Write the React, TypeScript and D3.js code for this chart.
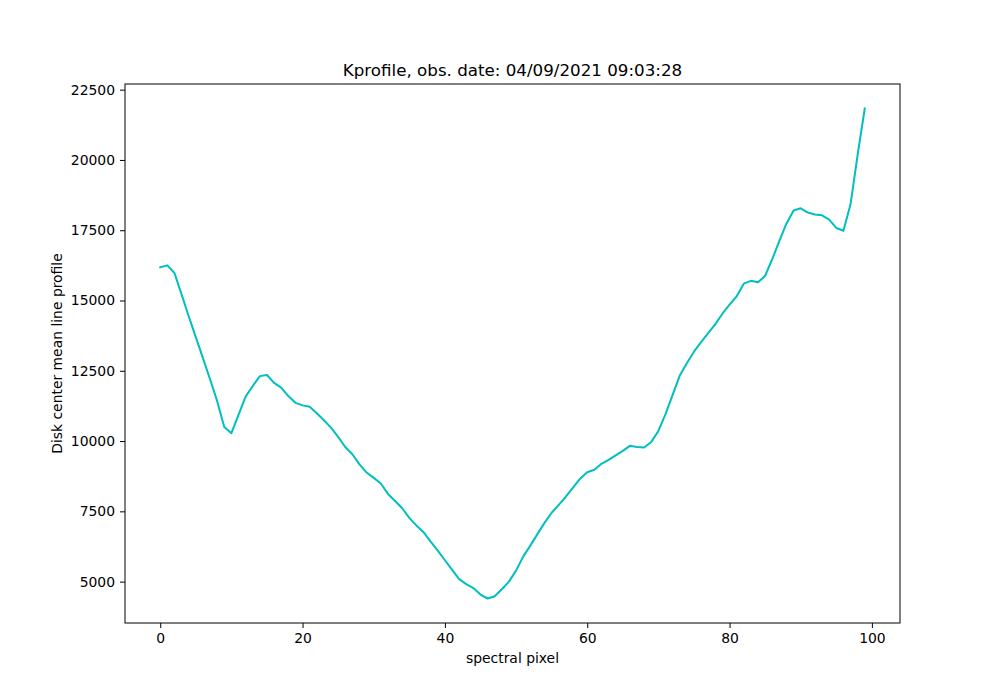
import React, { useEffect, useRef } from 'react';
import * as d3 from 'd3';

// mean line profile at disk center, one value per spectral pixel (0..99)
const profile: number[] = [
  16180, 16250, 15980, 15220, 14440, 13700, 12950, 12200, 11420, 10500,
  10280, 10930, 11580, 11960, 12310, 12350, 12070, 11900, 11600, 11360,
  11270, 11220, 10990, 10740, 10480, 10150, 9790, 9530, 9170, 8880,
  8690, 8490, 8120, 7870, 7610, 7270, 7000, 6760, 6420, 6100,
  5760, 5430, 5090, 4910, 4770, 4540, 4400, 4480, 4730, 5000,
  5390, 5890, 6280, 6690, 7090, 7450, 7730, 8020, 8340, 8660,
  8890, 8980, 9190, 9330, 9490, 9650, 9830, 9790, 9770, 9970,
  10360, 10960, 11640, 12330, 12770, 13180, 13520, 13840, 14160, 14530,
  14850, 15150, 15600, 15700, 15650, 15880, 16470, 17120, 17740, 18200,
  18280, 18130, 18060, 18030, 17880, 17580, 17480, 18420, 20190, 21830,
];
const xTicks = [0, 20, 40, 60, 80, 100];
const yTicks = [5000, 7500, 10000, 12500, 15000, 17500, 20000, 22500];
const title = 'Kprofile, obs. date: 04/09/2021 09:03:28';
const xLabel = 'spectral pixel';
const yLabel = 'Disk center mean line profile';

const App: React.FC = () => {
  const svgRef = useRef<SVGSVGElement>(null);

  useEffect(() => {
    if (!svgRef.current) return;
    const width = 1000;
    const height = 700;
    const m = { left: 125, right: 900, top: 84, bottom: 623 };
    const font = 'DejaVu Sans, sans-serif';

    const svg = d3.select(svgRef.current);
    svg.selectAll('*').remove();
    svg.attr('width', width).attr('height', height);

    svg.append('rect').attr('width', width).attr('height', height).attr('fill', 'white');

    // matplotlib-like 5% margins around the data
    const n = profile.length - 1;
    const [yMin, yMax] = d3.extent(profile) as [number, number];
    const yPad = (yMax - yMin) * 0.05;
    const x = d3.scaleLinear().domain([-n * 0.05, n * 1.05]).range([m.left, m.right]);
    const y = d3.scaleLinear().domain([yMin - yPad, yMax + yPad]).range([m.bottom, m.top]);

    const line = d3.line<number>()
      .x((d, i) => x(i))
      .y(d => y(d));

    svg.append('path')
      .datum(profile)
      .attr('d', line)
      .attr('fill', 'none')
      .attr('stroke', '#00bfbf')
      .attr('stroke-width', 2)
      .attr('stroke-linejoin', 'round')
      .attr('stroke-linecap', 'square');

    // axes
    const xAxis = svg.append('g')
      .attr('transform', `translate(0, ${m.bottom})`)
      .call(d3.axisBottom(x).tickValues(xTicks).tickSize(5).tickPadding(5).tickFormat(d3.format('d')));
    const yAxis = svg.append('g')
      .attr('transform', `translate(${m.left}, 0)`)
      .call(d3.axisLeft(y).tickValues(yTicks).tickSize(5).tickPadding(5).tickFormat(d3.format('d')));

    [xAxis, yAxis].forEach(a => {
      a.select('.domain').remove();
      a.selectAll('line').attr('stroke', 'black').attr('stroke-width', 1);
      a.selectAll('text').attr('font-family', font).attr('font-size', '13.9px').attr('fill', 'black');
    });

    // frame
    svg.append('rect')
      .attr('x', m.left)
      .attr('y', m.top)
      .attr('width', m.right - m.left)
      .attr('height', m.bottom - m.top)
      .attr('fill', 'none')
      .attr('stroke', 'black')
      .attr('stroke-width', 1);

    svg.append('text')
      .attr('x', (m.left + m.right) / 2)
      .attr('y', m.top - 8)
      .attr('text-anchor', 'middle')
      .attr('font-family', font)
      .attr('font-size', '16.7px')
      .text(title);

    svg.append('text')
      .attr('x', (m.left + m.right) / 2)
      .attr('y', 663)
      .attr('text-anchor', 'middle')
      .attr('font-family', font)
      .attr('font-size', '13.9px')
      .text(xLabel);

    svg.append('text')
      .attr('transform', `translate(62, ${(m.top + m.bottom) / 2}) rotate(-90)`)
      .attr('text-anchor', 'middle')
      .attr('font-family', font)
      .attr('font-size', '13.9px')
      .text(yLabel);
  }, []);

  return <svg ref={svgRef} style={{ position: 'absolute', left: 0, top: 0 }} />;
};

export default App;
